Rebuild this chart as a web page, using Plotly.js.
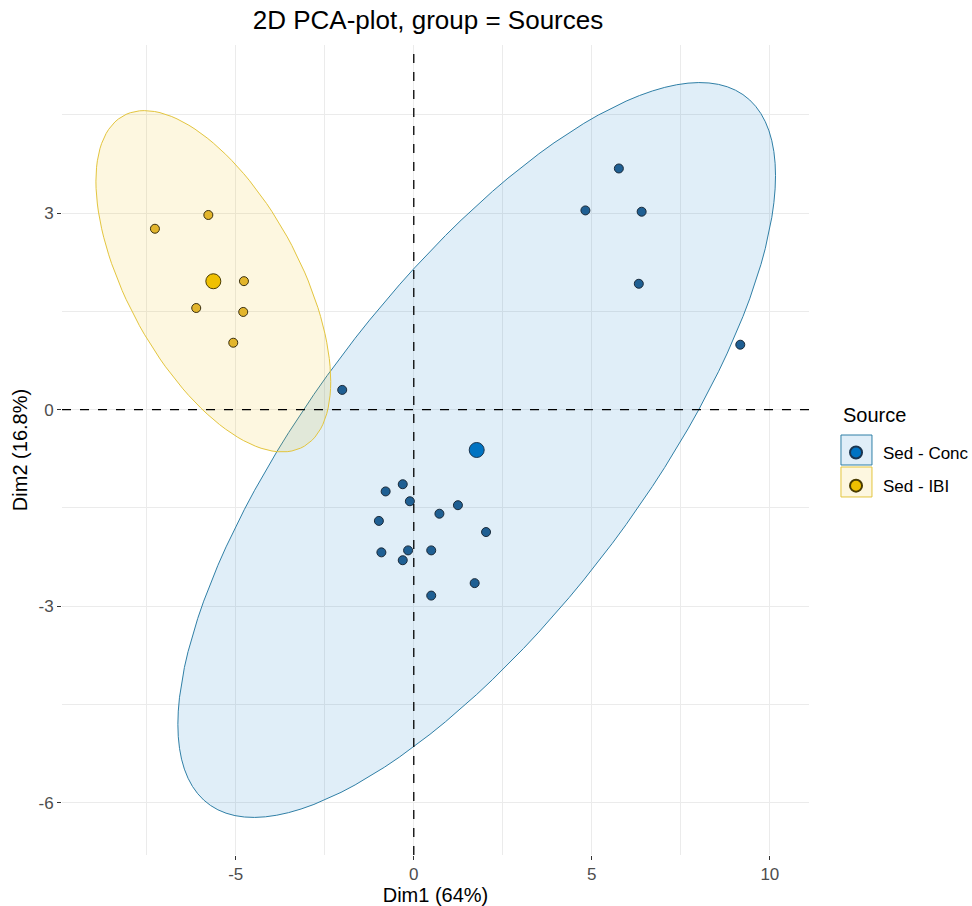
<!DOCTYPE html>
<html>
<head>
<meta charset="utf-8">
<script src="https://cdn.plot.ly/plotly-3.0.1.min.js"></script>
<style>html,body{margin:0;padding:0;background:#fff;}#chart{width:972px;height:906px;}</style>
</head>
<body>
<div id="chart"></div>
<script>
// ---- data ----
const groups = ["Sed - Conc", "Sed - IBI"];
const concX = [-2.01, 5.76, 4.82, 6.40, 6.32, 9.17, -0.31, -0.79, -0.11, 1.24, 0.72, -0.98, 2.03, -0.91, -0.16, 0.49, -0.31, 1.71, 0.49];
const concY = [0.30, 3.68, 3.04, 3.02, 1.92, 0.99, -1.14, -1.25, -1.40, -1.46, -1.59, -1.70, -1.87, -2.18, -2.15, -2.15, -2.30, -2.65, -2.84];
const ibiX = [-7.27, -5.77, -4.77, -6.11, -4.79, -5.07];
const ibiY = [2.76, 2.97, 1.96, 1.55, 1.49, 1.02];
const xTicks = [-5, 0, 5, 10];
const yTicks = [-6, -3, 0, 3];
const ellipseLevel = 0.95;

// ---- helpers: normal-theory data ellipse (like ggplot2 stat_ellipse, type="norm") ----
function mean(a){ return a.reduce((s,v)=>s+v,0)/a.length; }
function ellipse(xs, ys, level){
  const n = xs.length, mx = mean(xs), my = mean(ys);
  let sxx=0, syy=0, sxy=0;
  for (let i=0;i<n;i++){ const dx=xs[i]-mx, dy=ys[i]-my; sxx+=dx*dx; syy+=dy*dy; sxy+=dx*dy; }
  sxx/=(n-1); syy/=(n-1); sxy/=(n-1);
  const nu = n-1;
  const qf = (nu/2)*(Math.pow(1-level, -2/nu)-1); // F(2, nu) quantile
  const r = Math.sqrt(2*qf);
  const r11 = Math.sqrt(sxx), r12 = sxy/r11, r22 = Math.sqrt(syy - r12*r12);
  const ex=[], ey=[];
  for (let k=0;k<=120;k++){
    const t = 2*Math.PI*k/120, c=Math.cos(t), s=Math.sin(t);
    ex.push(mx + r*c*r11);
    ey.push(my + r*(c*r12 + s*r22));
  }
  return {ex, ey, mx, my};
}

const eC = ellipse(concX, concY, ellipseLevel);
const eI = ellipse(ibiX, ibiY, ellipseLevel);

const blue = "#0073C2", yellow = "#EFC000";
const blueFill = "rgba(0,115,194,0.12)", yellowFill = "rgba(239,192,0,0.12)";
const blueEdge = "#2F7FA6", yellowEdge = "#E3C53E";

const traces = [
  {x: eC.ex, y: eC.ey, type:"scatter", mode:"lines", fill:"toself",
   fillcolor:blueFill, line:{color:blueEdge, width:1}, showlegend:false, hoverinfo:"skip"},
  {x: eI.ex, y: eI.ey, type:"scatter", mode:"lines", fill:"toself",
   fillcolor:yellowFill, line:{color:yellowEdge, width:1}, showlegend:false, hoverinfo:"skip"},
  {x: concX, y: concY, type:"scatter", mode:"markers", name:groups[0], showlegend:false,
   marker:{size:9, color:"#1F5F93", line:{color:"#1a2a3a", width:1}}},
  {x: ibiX, y: ibiY, type:"scatter", mode:"markers", name:groups[1], showlegend:false,
   marker:{size:9, color:"#E2B52C", line:{color:"#3a3010", width:1}}},
  {x: [eC.mx], y: [eC.my], type:"scatter", mode:"markers", name:groups[0], legendgroup:"c",
   marker:{size:15, color:blue, line:{color:"#1a3550", width:1}}},
  {x: [eI.mx], y: [eI.my], type:"scatter", mode:"markers", name:groups[1], legendgroup:"i",
   marker:{size:15, color:yellow, line:{color:"#4a3c00", width:1}}}
];

const grid = "#EBEBEB";
const layout = {
  width: 972, height: 906,
  paper_bgcolor:"#fff", plot_bgcolor:"#fff",
  margin:{l:62, r:163, t:45, b:51, autoexpand:false},
  font:{family:"Liberation Sans, Arial, sans-serif", color:"#000"},
  title:{text:"2D PCA-plot, group = Sources", x:0.49, xref:"paper", xanchor:"center", y:0.978, yanchor:"middle",
         font:{size:26, color:"#000"}},
  xaxis:{range:[-9.88, 11.10], tickvals:xTicks, ticktext:xTicks.map(String), showgrid:true, gridcolor:grid, gridwidth:1,
         zeroline:false, showline:false, ticks:"outside", ticklen:4, tickcolor:"#333", tickwidth:1,
         tickfont:{size:17, color:"#4D4D4D"}, automargin:false,
         minor:{showgrid:true, gridcolor:grid, gridwidth:1, tickvals:[-7.5,-2.5,2.5,7.5]},
         title:{text:"Dim1 (64%)", font:{size:20, color:"#000"}, standoff:5}},
  yaxis:{range:[-6.80, 5.565], tickvals:yTicks, ticktext:yTicks.map(String), showgrid:true, gridcolor:grid, gridwidth:1,
         zeroline:false, showline:false, ticks:"outside", ticklen:4, tickcolor:"#333", tickwidth:1,
         tickfont:{size:17, color:"#4D4D4D"}, automargin:false,
         minor:{showgrid:true, gridcolor:grid, gridwidth:1, tickvals:[-4.5,-1.5,1.5,4.5]},
         title:{text:"Dim2 (16.8%)", font:{size:20, color:"#000"}, standoff:5}},
  showlegend:true,
  legend:{x:1.0268, xanchor:"left", y:0.5185, yanchor:"top", bgcolor:"rgba(0,0,0,0)",
          font:{size:17, color:"#000"}, itemwidth:44,
          itemsizing:"constant", tracegroupgap:8},
  annotations:[
    {text:"Source", xref:"paper", yref:"paper", x:1.0428, y:0.5432, xanchor:"left", yanchor:"middle",
     showarrow:false, font:{size:20, color:"#000"}}
  ],
  shapes:[
    {type:"line", xref:"x", yref:"paper", x0:0, x1:0, y0:0, y1:1, line:{color:"#000", width:1.3, dash:"dash"}, layer:"above"},
    {type:"line", xref:"paper", yref:"y", x0:0, x1:1, y0:0, y1:0, line:{color:"#000", width:1.3, dash:"dash"}, layer:"above"},
    {type:"rect", xref:"paper", yref:"paper", x0:1.0428, x1:1.0843, y0:0.4815, y1:0.5185,
     fillcolor:"rgba(0,115,194,0.12)", line:{color:blueEdge, width:1}, layer:"below"},
    {type:"rect", xref:"paper", yref:"paper", x0:1.0428, x1:1.0843, y0:0.4420, y1:0.4790,
     fillcolor:"rgba(239,192,0,0.12)", line:{color:yellowEdge, width:1}, layer:"below"}
  ]
};

Plotly.newPlot("chart", traces, layout, {displayModeBar:false, staticPlot:true});
</script>
</body>
</html>
